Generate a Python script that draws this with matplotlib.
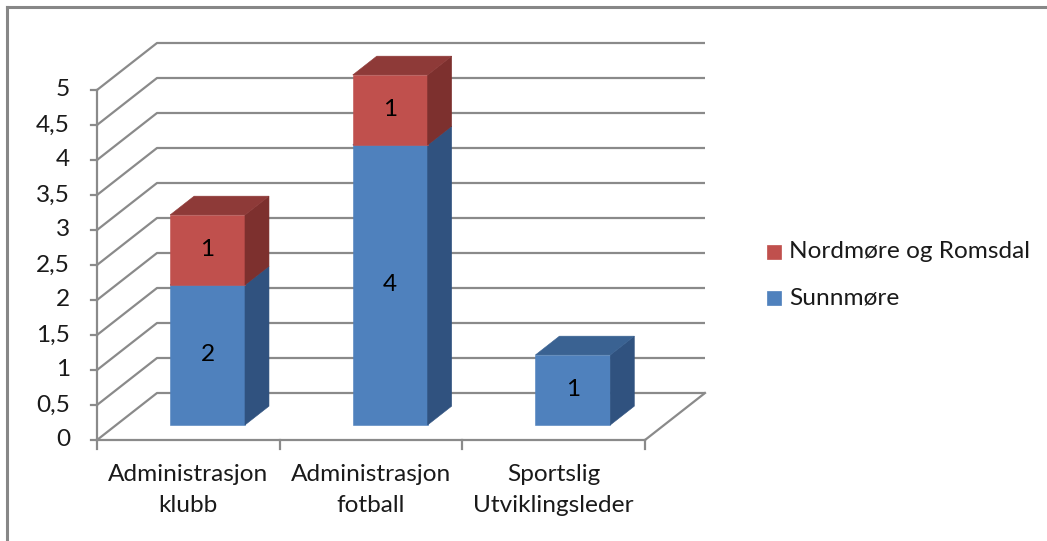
import matplotlib
matplotlib.use("Agg")
import matplotlib.pyplot as plt
from matplotlib.patches import Polygon, Rectangle
from matplotlib.lines import Line2D

plt.rcParams['font.family'] = ['Lato', 'DejaVu Sans']

# Data
categories = ["Administrasjon\nklubb", "Administrasjon\nfotball", "Sportslig\nUtviklingsleder"]
series_names = ["Sunnmøre", "Nordmøre og Romsdal"]
sunnmore = [2, 4, 1]
nordmore = [1, 1, 0]
y_ticks = [0, 0.5, 1, 1.5, 2, 2.5, 3, 3.5, 4, 4.5, 5]
y_tick_labels = ["0", "0,5", "1", "1,5", "2", "2,5", "3", "3,5", "4", "4,5", "5"]

# Face colours: front, side, top
blue = ("#4F81BD", "#30527F", "#3A6292")
red = ("#C0504D", "#7D302E", "#8E3A38")
grid_col = "#8A8A8A"
text_col = "#1a1a1a"
FS = 17.6

W, H = 1047, 541
fig = plt.figure(figsize=(W / 100, H / 100), dpi=100)
ax = fig.add_axes([97 / W, 101 / H, 548 / W, 350 / H])
n = len(categories)
ymax = y_ticks[-1]
ax.set_xlim(0, n)
ax.set_ylim(0, ymax)
ax.axis("off")

px_x = 548 / n      # pixels per category unit
px_y = 350 / ymax   # pixels per value unit

# Oblique depth offset (in data units) for a full unit of depth
DX = 60 / px_x
DY = 47 / px_y


def P(x, v, d):
    return (x + d * DX, v + d * DY)


# Walls: gridlines on side wall and back wall
for v in y_ticks:
    pts = [P(0, v, 0), P(0, v, 1), P(n, v, 1)]
    ax.add_line(Line2D([p[0] for p in pts], [p[1] for p in pts], color=grid_col,
                       lw=1.6, clip_on=False, zorder=1, solid_capstyle="butt"))
# Floor right edge
pts = [P(n, 0, 0), P(n, 0, 1)]
ax.add_line(Line2D([p[0] for p in pts], [p[1] for p in pts], color=grid_col,
                   lw=1.6, clip_on=False, zorder=1))

# Front axes
ax.add_line(Line2D([0, 0], [0, ymax], color=grid_col, lw=1.6, clip_on=False, zorder=2))
ax.add_line(Line2D([0, n], [0, 0], color=grid_col, lw=1.6, clip_on=False, zorder=2))
for v, lab in zip(y_ticks, y_tick_labels):
    ax.add_line(Line2D([-6 / px_x, 0], [v, v], color=grid_col, lw=1.6, clip_on=False, zorder=2))
    ax.text(-27 / px_x, v, lab, ha="right", va="center", fontsize=FS, color=text_col)
for i in range(n + 1):
    ax.add_line(Line2D([i, i], [0, -9 / px_y], color=grid_col, lw=1.6, clip_on=False, zorder=2))
for i, cat in enumerate(categories):
    ax.text(i + 0.5, -24 / px_y, cat, ha="center", va="top", fontsize=FS,
            color=text_col, linespacing=1.6)

# 3D stacked bars
BW = 0.41
D0, D1 = 0.32, 0.72


def box(xc, v0, v1, cols, z):
    x0, x1 = xc - BW / 2, xc + BW / 2
    front = [P(x0, v0, D0), P(x1, v0, D0), P(x1, v1, D0), P(x0, v1, D0)]
    side = [P(x1, v0, D0), P(x1, v0, D1), P(x1, v1, D1), P(x1, v1, D0)]
    top = [P(x0, v1, D0), P(x1, v1, D0), P(x1, v1, D1), P(x0, v1, D1)]
    for poly, c in ((front, cols[0]), (side, cols[1]), (top, cols[2])):
        ax.add_patch(Polygon(poly, closed=True, facecolor=c, edgecolor=c, lw=0.4,
                             clip_on=False, zorder=z))
    fx, fy = P(xc, (v0 + v1) / 2, D0)
    ax.text(fx, fy, f"{v1 - v0:g}", ha="center", va="center", fontsize=FS,
            color="black", zorder=z + 1)


for i in range(n):
    xc = i + 0.5
    base = 0
    for vals, cols, z in ((sunnmore, blue, 3), (nordmore, red, 5)):
        if vals[i] > 0:
            box(xc, base, base + vals[i], cols, z)
            base += vals[i]

# Legend
leg_items = [(series_names[1], red[0], 252), (series_names[0], blue[0], 298)]
for name, col, yc in leg_items:
    fig.patches.append(Rectangle((767 / W, 1 - (yc + 7) / H), 14 / W, 14 / H,
                                 transform=fig.transFigure, facecolor=col,
                                 edgecolor=col, lw=0.5))
    fig.text(789 / W, 1 - yc / H, name, ha="left", va="center", fontsize=FS, color=text_col)

# Chart-area border
fig.add_artist(Line2D([7 / W, 7 / W], [0, 1 - 7 / H], color="#878787", lw=2.2,
                      transform=fig.transFigure))
fig.add_artist(Line2D([7 / W, 1], [1 - 7 / H, 1 - 7 / H], color="#878787", lw=2.2,
                      transform=fig.transFigure))

fig.savefig("out.png", dpi=100, facecolor="white")
